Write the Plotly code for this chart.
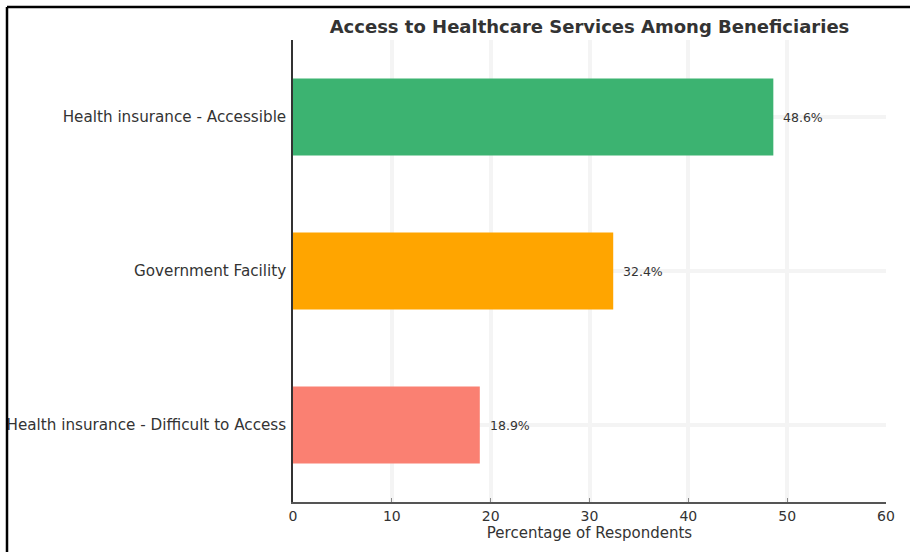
import plotly.graph_objects as go

# Survey results: access to healthcare services
categories = [
    "Health insurance - Difficult to Access",
    "Government Facility",
    "Health insurance - Accessible",
]
percentages = [18.9, 32.4, 48.6]
bar_colors = ["#FA8072", "#FFA500", "#3CB371"]
x_ticks = [0, 10, 20, 30, 40, 50, 60]

W, H = 910, 552
ML, MR, MT, MB = 293, 24, 40, 50
plot_w = W - ML - MR
plot_h = H - MT - MB

fig = go.Figure(
    go.Bar(
        y=categories,
        x=percentages,
        orientation="h",
        width=0.5,
        marker=dict(color=bar_colors, line=dict(width=0)),
    )
)

# value labels just past the end of each bar
for cat, val in zip(categories, percentages):
    fig.add_annotation(
        x=val, y=cat, text=f"{val:.1f}%",
        showarrow=False, xanchor="left", xshift=8,
        font=dict(family="DejaVu Sans", size=12.5, color="#333333"),
    )

# outer frame (top and left edges)
fx = (7 - ML) / plot_w
fy = (H - MB - 7) / plot_h
frame = dict(color="black", width=2.5)
fig.add_shape(type="line", xref="paper", yref="paper",
              x0=fx, y0=fy, x1=1.2, y1=fy, line=frame)
fig.add_shape(type="line", xref="paper", yref="paper",
              x0=fx, y0=fy, x1=fx, y1=-0.2, line=frame)

fig.update_layout(
    width=W,
    height=H,
    margin=dict(l=ML, r=MR, t=MT, b=MB, autoexpand=False),
    paper_bgcolor="white",
    plot_bgcolor="white",
    showlegend=False,
    bargap=0.5,
    title=dict(
        text="<b>Access to Healthcare Services Among Beneficiaries</b>",
        font=dict(family="DejaVu Sans", size=18, color="#333333"),
        x=(ML + plot_w / 2) / W,
        xanchor="center",
        y=1 - 27 / H,
        yanchor="middle",
    ),
    font=dict(family="DejaVu Sans", size=15, color="#333333"),
)

fig.update_xaxes(
    range=[0, 60],
    tickvals=x_ticks,
    ticktext=[str(t) for t in x_ticks],
    showgrid=True,
    gridcolor="#f4f4f4",
    gridwidth=4,
    zeroline=False,
    showline=True,
    linecolor="#555555",
    linewidth=1.5,
    ticks="inside",
    ticklen=4,
    tickcolor="#888888",
    automargin=False,
    tickfont=dict(family="DejaVu Sans", size=14, color="#333333"),
    title=dict(text="Percentage of Respondents",
               font=dict(family="DejaVu Sans", size=15, color="#333333"),
               standoff=5),
)

fig.update_yaxes(
    range=[-0.5, 2.5],
    showgrid=True,
    gridcolor="#f4f4f4",
    gridwidth=4,
    showline=True,
    linecolor="#333333",
    linewidth=1.5,
    ticks="",
    ticklabelstandoff=2,
    automargin=False,
    tickfont=dict(family="DejaVu Sans", size=15.2, color="#333333"),
)

fig.write_html("out.html")
